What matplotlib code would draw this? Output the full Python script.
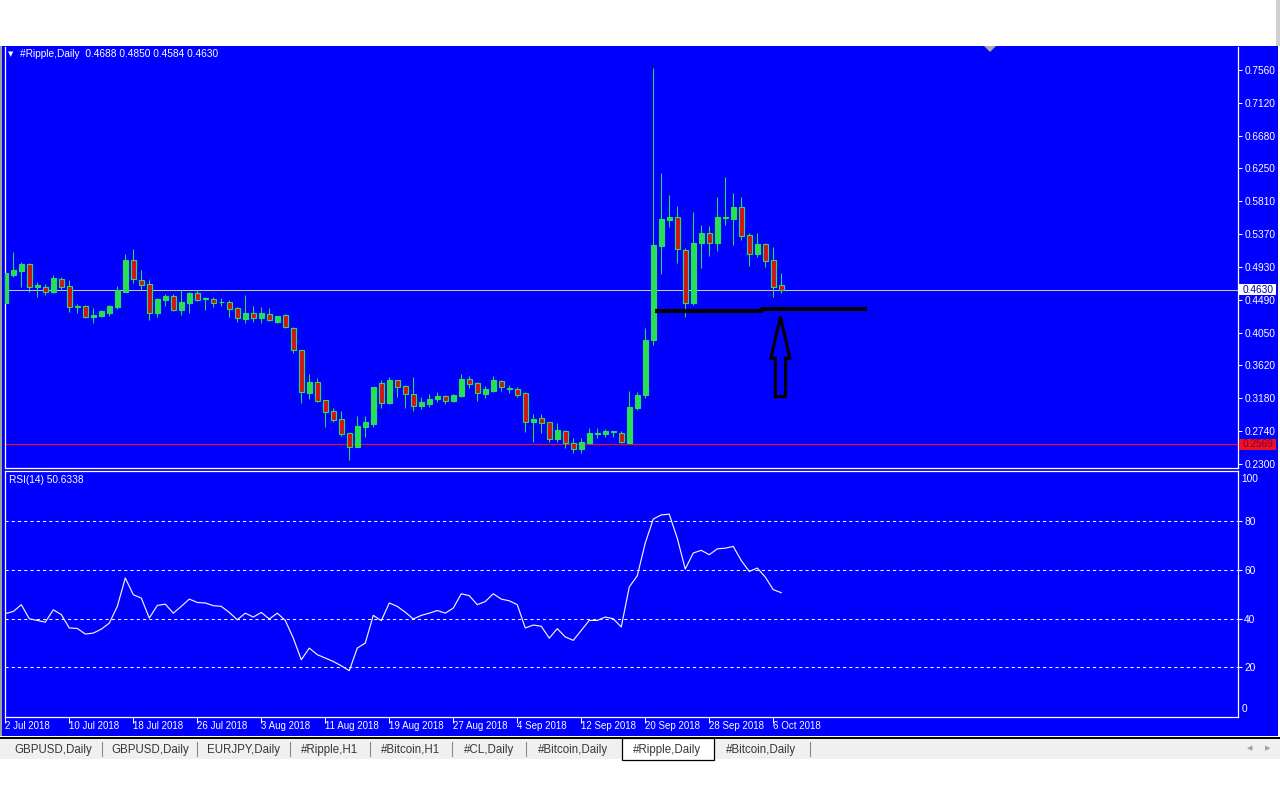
import matplotlib
matplotlib.use("Agg")
import matplotlib.pyplot as plt
from matplotlib.patches import Rectangle, Polygon
import matplotlib.transforms as mtransforms
import pandas as pd

plt.rcParams['font.family'] = ['Liberation Sans', 'DejaVu Sans']

# daily XRP bars, 2 Jul 2018 .. 7 Oct 2018
opens = [0.4457, 0.4826, 0.4884, 0.4973, 0.4671, 0.4662, 0.4595, 0.4773, 0.4680, 0.4404,
         0.4413, 0.4271, 0.4280, 0.4324, 0.4404, 0.4604, 0.5026, 0.4760, 0.4706, 0.4324,
         0.4493, 0.4547, 0.4360, 0.4449, 0.4582, 0.4502, 0.4502, 0.4462, 0.4462, 0.4382,
         0.4240, 0.4315, 0.4257, 0.4302, 0.4204, 0.4293, 0.4115, 0.3826, 0.3258, 0.3396,
         0.3156, 0.3013, 0.2902, 0.2716, 0.2529, 0.2796, 0.2840, 0.3382, 0.3116, 0.3422,
         0.3347, 0.3236, 0.3080, 0.3107, 0.3173, 0.3213, 0.3147, 0.3213, 0.3440, 0.3382,
         0.3240, 0.3280, 0.3413, 0.3302, 0.3307, 0.3249, 0.2871, 0.2916, 0.2862, 0.2640,
         0.2751, 0.2582, 0.2502, 0.2582, 0.2707, 0.2707, 0.2729, 0.2724, 0.2582, 0.3049,
         0.3227, 0.3960, 0.5213, 0.5560, 0.5596, 0.5160, 0.4449, 0.5249, 0.5391, 0.5258,
         0.5591, 0.5573, 0.5729, 0.5360, 0.5107, 0.5240, 0.5027, 0.4688]
highs = [0.4893, 0.5129, 0.4995, 0.4982, 0.4737, 0.4706, 0.4826, 0.4804, 0.4760, 0.4440,
         0.4427, 0.4391, 0.4360, 0.4427, 0.4680, 0.5106, 0.5173, 0.4893, 0.4760, 0.4515,
         0.4569, 0.4573, 0.4626, 0.4604, 0.4626, 0.4529, 0.4537, 0.4515, 0.4493, 0.4404,
         0.4560, 0.4413, 0.4396, 0.4382, 0.4280, 0.4306, 0.4129, 0.3826, 0.3507, 0.3449,
         0.3156, 0.3049, 0.3018, 0.2724, 0.2947, 0.2947, 0.3329, 0.3427, 0.3462, 0.3431,
         0.3360, 0.3462, 0.3204, 0.3240, 0.3262, 0.3227, 0.3240, 0.3507, 0.3480, 0.3404,
         0.3351, 0.3480, 0.3427, 0.3360, 0.3338, 0.3271, 0.2973, 0.2973, 0.2862, 0.2858,
         0.2760, 0.2658, 0.2649, 0.2782, 0.2782, 0.2778, 0.2747, 0.2751, 0.3284, 0.3271,
         0.4116, 0.7583, 0.6183, 0.5894, 0.5747, 0.5182, 0.5662, 0.5493, 0.5480, 0.5862,
         0.6138, 0.5925, 0.5862, 0.5391, 0.5391, 0.5258, 0.5196, 0.4850]
lows = [0.4450, 0.4804, 0.4671, 0.4604, 0.4529, 0.4560, 0.4582, 0.4627, 0.4337, 0.4324,
        0.4249, 0.4182, 0.4262, 0.4280, 0.4369, 0.4604, 0.4715, 0.4626, 0.4227, 0.4271,
        0.4418, 0.4351, 0.4293, 0.4324, 0.4484, 0.4360, 0.4404, 0.4418, 0.4271, 0.4204,
        0.4191, 0.4204, 0.4182, 0.4218, 0.4191, 0.4115, 0.3791, 0.3124, 0.3173, 0.3138,
        0.2804, 0.2871, 0.2680, 0.2360, 0.2529, 0.2671, 0.2796, 0.3049, 0.3102, 0.3204,
        0.3049, 0.3018, 0.3040, 0.3071, 0.3138, 0.3107, 0.3138, 0.3204, 0.3316, 0.3147,
        0.3191, 0.3271, 0.3280, 0.3249, 0.3204, 0.2738, 0.2604, 0.2724, 0.2604, 0.2604,
        0.2516, 0.2449, 0.2458, 0.2573, 0.2649, 0.2671, 0.2662, 0.2582, 0.2582, 0.3027,
        0.3180, 0.3894, 0.4840, 0.5462, 0.4982, 0.4271, 0.4427, 0.4916, 0.5085, 0.5151,
        0.5493, 0.5227, 0.5294, 0.4947, 0.5071, 0.4938, 0.4538, 0.4584]
closes = [0.4849, 0.4893, 0.4973, 0.4671, 0.4693, 0.4604, 0.4782, 0.4671, 0.4404, 0.4413,
          0.4271, 0.4293, 0.4351, 0.4413, 0.4626, 0.5026, 0.4769, 0.4693, 0.4324, 0.4506,
          0.4547, 0.4360, 0.4466, 0.4591, 0.4493, 0.4515, 0.4458, 0.4471, 0.4369, 0.4249,
          0.4315, 0.4257, 0.4315, 0.4227, 0.4280, 0.4129, 0.3826, 0.3262, 0.3396, 0.3147,
          0.3004, 0.2893, 0.2707, 0.2538, 0.2813, 0.2871, 0.3329, 0.3124, 0.3427, 0.3338,
          0.3236, 0.3084, 0.3138, 0.3173, 0.3218, 0.3147, 0.3227, 0.3440, 0.3373, 0.3249,
          0.3307, 0.3427, 0.3338, 0.3324, 0.3227, 0.2871, 0.2907, 0.2858, 0.2640, 0.2760,
          0.2582, 0.2507, 0.2596, 0.2716, 0.2724, 0.2751, 0.2747, 0.2596, 0.3071, 0.3227,
          0.3960, 0.5227, 0.5569, 0.5596, 0.5169, 0.4458, 0.5249, 0.5382, 0.5258, 0.5596,
          0.5605, 0.5729, 0.5351, 0.5107, 0.5240, 0.5018, 0.4671, 0.4630]
rsi = [42.0, 42.9, 45.7, 39.9, 39.2, 38.5, 43.6, 41.6, 36.1, 35.9,
       33.6, 34.0, 35.6, 38.1, 45.0, 56.7, 49.8, 48.4, 40.2, 45.4,
       45.9, 42.2, 45.0, 48.0, 46.6, 46.4, 45.3, 45.0, 42.5, 39.5,
       42.2, 40.6, 42.5, 39.8, 42.2, 39.2, 31.9, 23.0, 27.8, 25.1,
       23.7, 22.3, 20.5, 18.5, 27.8, 29.9, 41.3, 39.1, 46.4, 45.0,
       42.6, 39.8, 41.3, 42.2, 43.3, 42.2, 44.3, 50.2, 49.4, 45.7,
       47.0, 50.2, 48.0, 47.3, 45.7, 36.1, 37.3, 36.8, 31.9, 35.8,
       32.4, 31.0, 35.1, 39.2, 39.2, 40.6, 39.9, 36.5, 53.0, 57.6,
       71.1, 81.0, 82.7, 83.0, 73.1, 60.4, 67.0, 68.1, 66.3, 68.7,
       69.0, 69.7, 63.9, 59.4, 60.8, 57.1, 51.9, 50.6338]
dates = pd.date_range("2018-07-02", periods=len(closes), freq="D")

price_ticks = [0.7560, 0.7120, 0.6680, 0.6250, 0.5810, 0.5370, 0.4930,
               0.4490, 0.4050, 0.3620, 0.3180, 0.2740, 0.2300]
rsi_levels = [20, 40, 60, 80]
red_level = 0.2569
support_level = 0.4363
tabs = ["GBPUSD,Daily", "GBPUSD,Daily", "EURJPY,Daily", "#Ripple,H1", "#Bitcoin,H1",
        "#CL,Daily", "#Bitcoin,Daily", "#Ripple,Daily", "#Bitcoin,Daily"]
tab_x = [53, 150, 244, 330, 411, 489, 573, 667, 761]
tab_sep = [102, 197, 290, 370, 452, 526, 810]

BLUE = "#0000FF"
BULL = "#26E052"
BEAR = "#D01414"
W, H = 1280, 800


def fx(x):
    return x / W


def fy(y):
    return 1 - y / H


fig = plt.figure(figsize=(12.8, 8), dpi=100)
fig.patch.set_facecolor("white")

# window background
fig.patches.append(Rectangle((fx(2), fy(736)), fx(1276), 690 / H, transform=fig.transFigure,
                             fc=BLUE, ec="none", zorder=-10))
fig.patches.append(Rectangle((0, fy(736)), fx(2), 690 / H, transform=fig.transFigure,
                             fc="#A0A0A0", ec="none", zorder=-10))
fig.patches.append(Rectangle((0, fy(759)), 1, 21 / H, transform=fig.transFigure,
                             fc="#F0F0F0", ec="none", zorder=-10))
fig.patches.append(Rectangle((fx(1276), fy(46)), fx(4), 46 / H, transform=fig.transFigure,
                             fc="#D0D0D0", ec="none", zorder=-10))
fig.lines.append(plt.Line2D([0, 1], [fy(737.5), fy(737.5)], transform=fig.transFigure,
                            color="black", lw=1.4))

# ---- price panel ----
ax = fig.add_axes([fx(5), fy(468), 1233 / W, 421 / H])
ax.set_facecolor(BLUE)
ax.set_xlim(-0.04, 154.1)
ax.set_ylim(0.2253, 0.7867)
for k in range(len(closes)):
    o, h, l, c = opens[k], highs[k], lows[k], closes[k]
    ax.vlines(k, l, h, color=BULL, lw=0.75, zorder=2)
    fill = BULL if c >= o else BEAR
    ax.add_patch(Rectangle((k - 0.3, min(o, c)), 0.6, abs(c - o), fc=fill, ec=BULL,
                           lw=0.8, zorder=3))

ax.axhline(closes[-1], color="#C8C8C8", lw=0.75, zorder=1)
ax.axhline(red_level, color="#E0103A", lw=0.9, zorder=1)

# hand-drawn support line and arrow
ax.plot([81.2, 94.7], [support_level - 0.001, support_level - 0.001], color="black", lw=3, zorder=5,
        solid_capstyle="butt")
ax.plot([94.3, 107.7], [support_level + 0.001, support_level + 0.001], color="black", lw=3, zorder=5,
        solid_capstyle="butt")
ax_c, tip, base, bottom = 96.9, 0.4271, 0.3716, 0.3204
ax.add_patch(Polygon([(ax_c, tip), (ax_c + 1.19, base), (ax_c + 0.63, base), (ax_c + 0.63, bottom),
                      (ax_c - 0.63, bottom), (ax_c - 0.63, base), (ax_c - 1.19, base)],
                     closed=True, fill=False, ec="black", lw=2.2, joinstyle="miter", zorder=5))

ax.set_xticks([])
ax.yaxis.tick_right()
ax.set_yticks(price_ticks)
ax.set_yticklabels(["%.4f" % p for p in price_ticks])
ax.tick_params(axis="y", length=3, width=0.75, colors="white", labelsize=7.3, pad=1.5)
for s in ax.spines.values():
    s.set_color("white")
    s.set_linewidth(0.9)
ax.spines["top"].set_visible(False)

blend = mtransforms.blended_transform_factory(ax.transAxes, ax.transData)
ax.add_patch(Rectangle((1.0008, closes[-1] - 0.0073), 0.030, 0.0146, transform=blend,
                       fc="white", ec="none", clip_on=False, zorder=6))
ax.text(1.0035, closes[-1], "%.4f" % closes[-1], transform=blend, color="#0000C0",
        fontsize=7.3, va="center", ha="left", zorder=7)
ax.add_patch(Rectangle((1.0008, red_level - 0.0073), 0.030, 0.0146, transform=blend,
                       fc="#EE1122", ec="none", clip_on=False, zorder=6))
ax.text(1.0035, red_level, "%.4f" % red_level, transform=blend, color="#7A0040",
        fontsize=7.3, va="center", ha="left", zorder=7)

fig.text(fx(8), fy(54), "\u25BC", color="white", fontsize=5, va="center",
         family=["DejaVu Sans"])
fig.text(fx(20), fy(54), "#Ripple,Daily  %.4f %.4f %.4f %.4f"
         % (opens[-1], highs[-1], lows[-1], closes[-1]),
         color="white", fontsize=7.3, va="center")
fig.patches.append(Polygon([(fx(984), fy(46)), (fx(996), fy(46)), (fx(990), fy(52))],
                           closed=True, transform=fig.transFigure, fc="#A8A8A8", ec="none"))

# ---- RSI panel ----
ar = fig.add_axes([fx(5), fy(717), 1233 / W, 246 / H])
ar.set_facecolor(BLUE)
ar.set_xlim(-0.04, 154.1)
ar.set_ylim(-0.6, 100.8)
for lv in rsi_levels:
    ar.axhline(lv, color="white", lw=0.75, ls=(0, (3, 3)))
ar.plot(range(len(rsi)), rsi, color="#F4F4F4", lw=0.85)
ar.yaxis.tick_right()
ar.set_yticks(rsi_levels)
ar.set_yticklabels([str(v) for v in rsi_levels])
ar.tick_params(axis="y", length=3, width=0.75, colors="white", labelsize=7.3, pad=1.5)
rblend = mtransforms.blended_transform_factory(ar.transAxes, ar.transData)
ar.text(1.003, 97.5, "100", transform=rblend, color="white", fontsize=7.3, va="center")
ar.text(1.003, 2.7, "0", transform=rblend, color="white", fontsize=7.3, va="center")
ar.text(4 / 1233, 0.963, "RSI(14) %.4f" % rsi[-1], transform=ar.transAxes,
        color="white", fontsize=7.3, va="center")

xt = list(range(0, len(closes), 8))
ar.set_xticks(xt)
ar.set_xticklabels([f"{dates[i].day} {dates[i]:%b %Y}" for i in xt], ha="left")
ar.tick_params(axis="x", length=4, width=0.75, colors="white", labelsize=7, pad=-1.2)
for s in ar.spines.values():
    s.set_color("white")
    s.set_linewidth(0.9)

# ---- tab bar ----
fig.patches.append(Rectangle((fx(622), fy(760)), 92 / W, 22 / H, transform=fig.transFigure,
                             fc="white", ec="black", lw=0.9))
for t, x in zip(tabs, tab_x):
    fig.text(fx(x), fy(752.5), t, color="#383838", fontsize=8.3, ha="center", va="baseline")
for x in tab_sep:
    fig.lines.append(plt.Line2D([fx(x), fx(x)], [fy(742), fy(756)], transform=fig.transFigure,
                                color="#8A8A8A", lw=0.8))
fig.text(fx(1250), fy(748), "\u25C0", color="#A0A0A0", fontsize=5, ha="center", va="center",
         family=["DejaVu Sans"])
fig.text(fx(1268), fy(748), "\u25B6", color="#A0A0A0", fontsize=5, ha="center", va="center",
         family=["DejaVu Sans"])

fig.savefig("out.png", dpi=100, facecolor=fig.get_facecolor())
